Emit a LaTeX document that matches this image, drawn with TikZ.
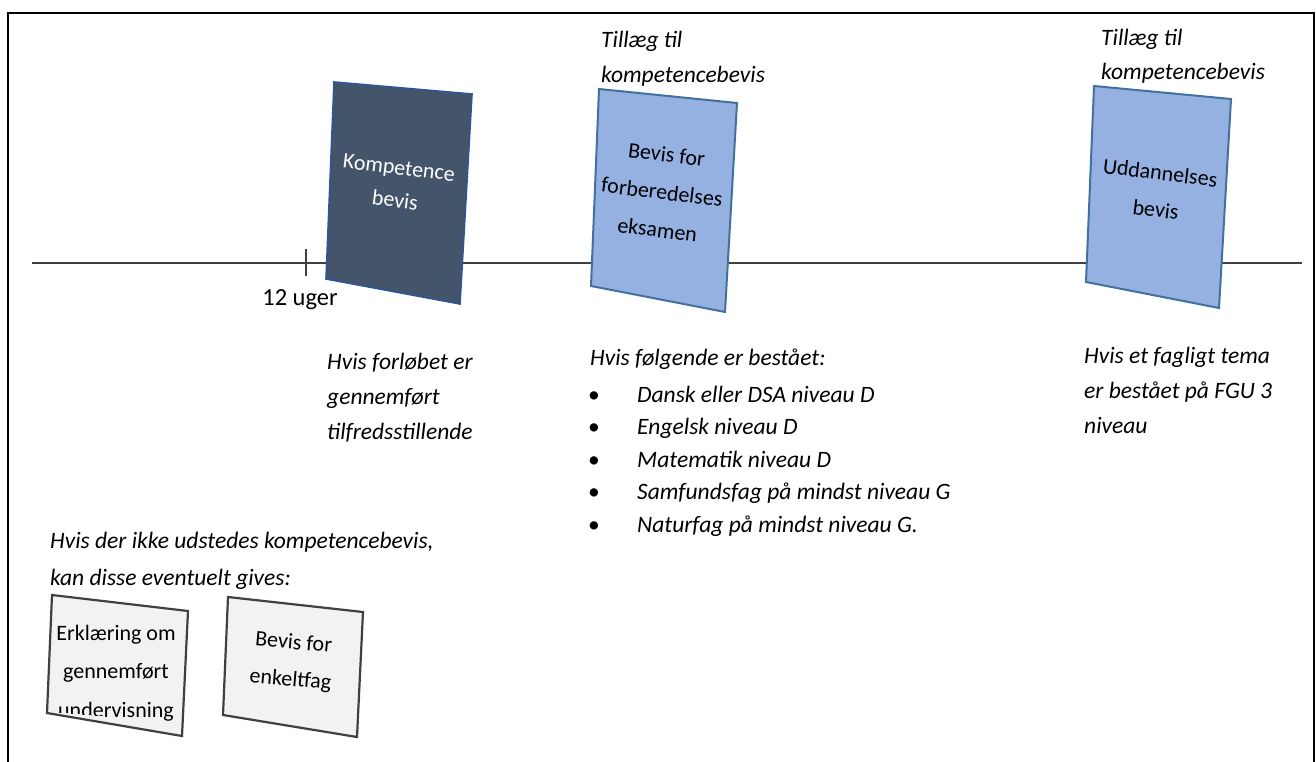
\documentclass[tikz,border=0pt]{standalone}
\usepackage{fontspec}
\setmainfont{Carlito}
\definecolor{darkslate}{HTML}{44546A}
\definecolor{darkedge}{HTML}{2F5597}
\definecolor{lightblue}{HTML}{95B1E2}
\definecolor{blueedge}{HTML}{41719C}
\definecolor{paleg}{HTML}{F2F2F2}
\definecolor{greyedge}{HTML}{404040}
\begin{document}
\begin{tikzpicture}[x=1pt,y=-1pt,
  frame/.style={line width=2pt,black},
  axis/.style={line width=1.3pt,color=greyedge},
  darkcard/.style={fill=darkslate,draw=darkedge,line width=1.6pt},
  bluecard/.style={fill=lightblue,draw=blueedge,line width=2pt},
  greycard/.style={fill=paleg,draw=greyedge,line width=2.2pt},
  cardtext/.style={align=center,inner sep=0pt,font=\fontsize{22}{#1}\selectfont},
  note/.style={align=left,inner sep=0pt,anchor=base west,font=\fontsize{23.5}{#1}\selectfont\itshape},
  bullets/.style={align=center,inner sep=0pt,anchor=base,font=\fontsize{23.5}{32.5}\selectfont},
]
\useasboundingbox (0,0) rectangle (1316,762);
% frame
\draw[frame] (8,762) -- (8,13) -- (1314,13) -- (1314,762);
% timeline
\coordinate (tl) at (32,263);
\coordinate (tr) at (1302,263);
\draw[axis] (tl) -- (tr);
\coordinate (tk1) at (306,249);
\coordinate (tk2) at (306,276);
\draw[axis] (tk1) -- (tk2);
\node[inner sep=0pt,font=\fontsize{24.5}{30}\selectfont] (uger) at (300,300) {12 uger};
% card 1
\draw[darkcard] (334,82) -- (472,94) -- (460,304) -- (326,279) -- cycle;
\node[cardtext=33,text=white,rotate=-7] (komp) at (397,184) {Kompetence\\bevis};
% card 2
\draw[bluecard] (599,89) -- (737,103) -- (725,312) -- (591,286) -- cycle;
\node[cardtext=38,rotate=-7] (forb) at (662,192) {Bevis for\\forberedelses\\eksamen};
% card 3
\draw[bluecard] (1094,86) -- (1231,99) -- (1219,308) -- (1086,282) -- cycle;
\node[cardtext=37,rotate=-7] (udd) at (1158,191) {Uddannelses\\bevis};
% notes above (anchor = baseline of the last line)
\node[note=35] (till1) at (601,83) {Tillæg til\\kompetencebevis};
\node[note=34.5] (till2) at (1101,80) {Tillæg til\\kompetencebevis};
% notes below
\node[note=35] (forl) at (327,439) {Hvis forløbet er\\gennemført\\tilfredsstillende};
\node[note=35] (folg) at (590,365) {Hvis følgende er bestået:};
\node[bullets] (bul) at (594,532) {•\\•\\•\\•\\•};
\node[note=32.5] (items) at (637,532) {Dansk eller DSA niveau D\\Engelsk niveau D\\Matematik niveau D\\Samfundsfag på mindst niveau G\\Naturfag på mindst niveau G.};
\node[note=35] (fag) at (1084,433) {Hvis et fagligt tema\\er bestået på FGU 3\\niveau};
\node[note=37] (ikke) at (50,585) {Hvis der ikke udstedes kompetencebevis,\\kan disse eventuelt gives:};
% small cards
\draw[greycard] (52,595) -- (188,611) -- (182,736) -- (47,713) -- cycle;
\begin{scope}[shift={(116,673)},rotate=-5]
  \clip (-70,-70) rectangle (70,44);
  \node[cardtext=38.5] (erkl) at (0,0) {Erklæring om\\gennemført\\undervisning};
\end{scope}
\draw[greycard] (228,597) -- (363,612) -- (357,737) -- (223,715) -- cycle;
\node[cardtext=37,rotate=-5] (enk) at (292,662) {Bevis for\\enkeltfag};
\end{tikzpicture}
\end{document}
